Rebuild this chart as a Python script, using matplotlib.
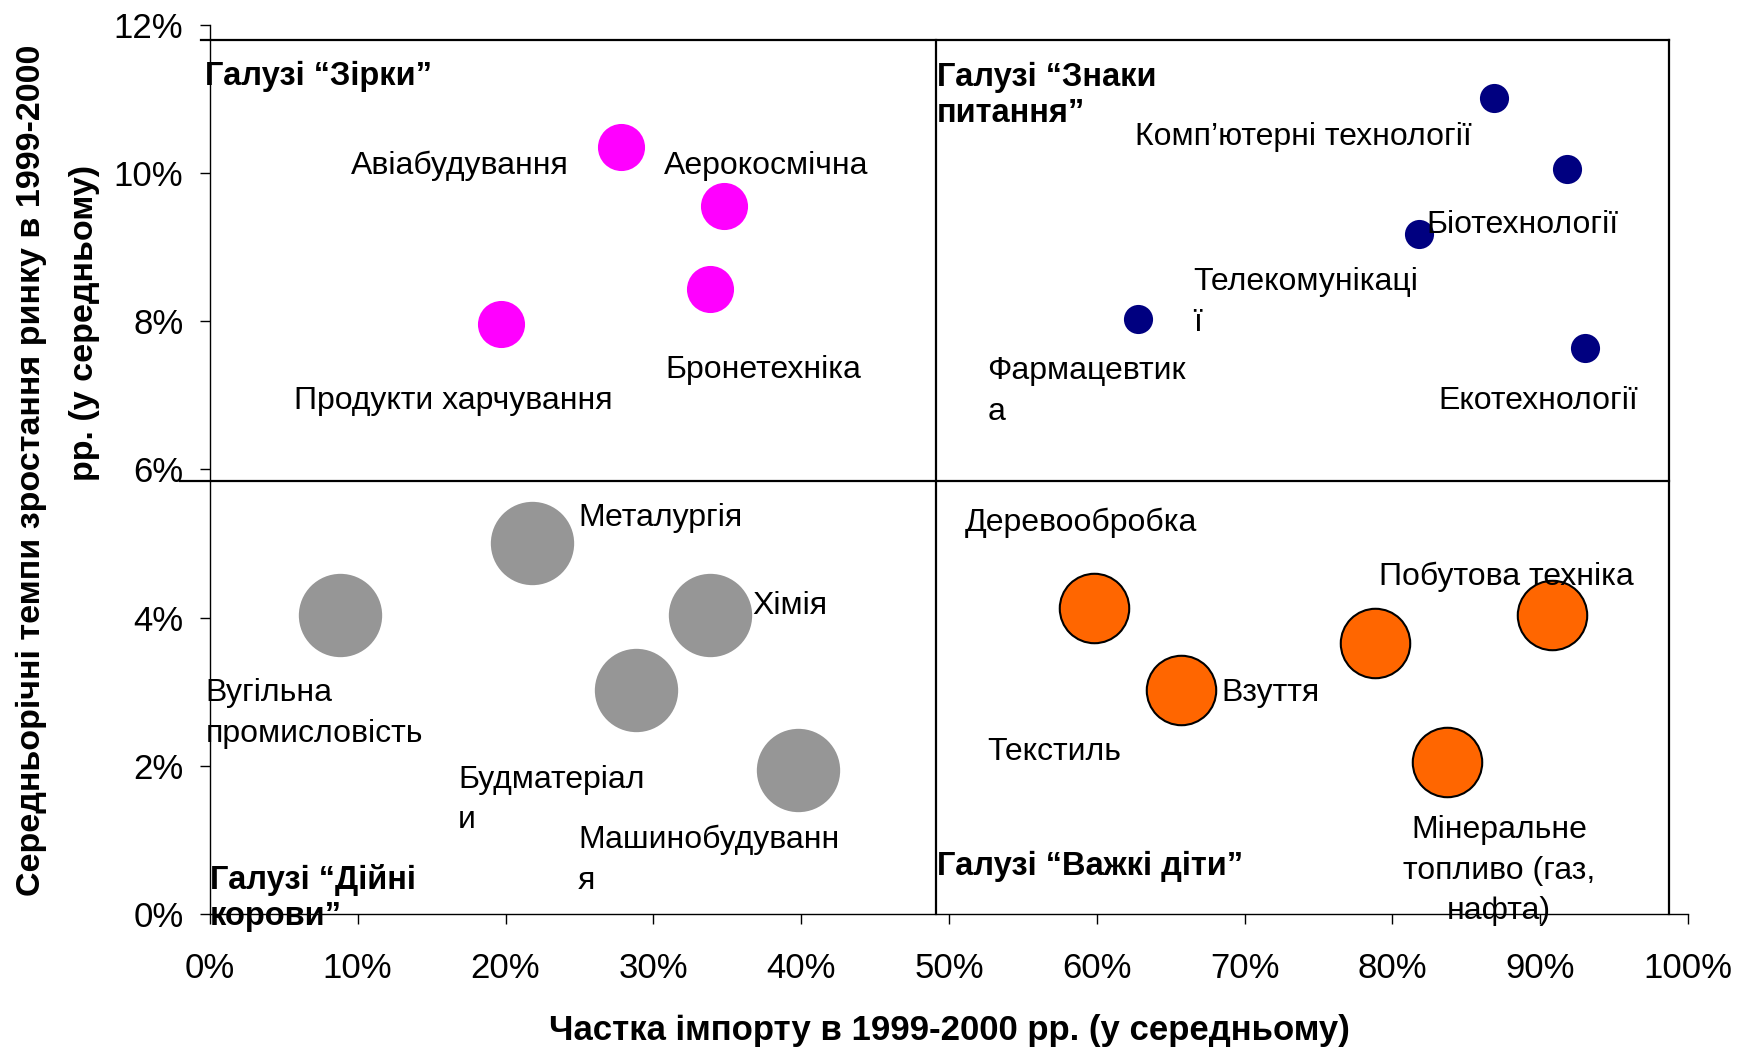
import matplotlib
matplotlib.use('Agg')
import matplotlib.pyplot as plt
from matplotlib import font_manager

# Quadrant groups: import share (%) vs growth rate (%)
stars_names = ['Авіабудування', 'Аерокосмічна', 'Бронетехніка', 'Продукти харчування']
stars_x = [27.8, 34.8, 33.8, 19.7]
stars_y = [10.35, 9.55, 8.43, 7.96]

question_names = ['Комп’ютерні технології', 'Біотехнології', 'Телекомунікаці\nї',
                  'Фармацевтик\nа', 'Екотехнології']
question_x = [86.9, 91.8, 81.8, 62.8, 93.0]
question_y = [11.01, 10.05, 9.17, 8.03, 7.64]

cows_names = ['Металургія', 'Вугільна\nпромисловість', 'Хімія', 'Будматеріал\nи',
              'Машинобудуванн\nя']
cows_x = [21.8, 8.8, 33.8, 28.8, 39.8]
cows_y = [5.01, 4.04, 4.04, 3.03, 1.95]

dogs_names = ['Деревообробка', 'Текстиль', 'Взуття', 'Побутова техніка',
              'Мінеральне\nтопливо (газ,\nнафта)']
dogs_x = [59.8, 65.7, 78.8, 90.8, 83.7]
dogs_y = [4.13, 3.03, 3.66, 4.04, 2.06]

quadrant_titles = ['Галузі “Зірки”', 'Галузі “Знаки\nпитання”',
                   'Галузі “Дійні\nкорови”', 'Галузі “Важкі діти”']

x_ticks = [0, 10, 20, 30, 40, 50, 60, 70, 80, 90, 100]
y_ticks = [0, 2, 4, 6, 8, 10, 12]

# where each label text sits (layout only)
label_pos = {
    'Авіабудування': (9.56, 10.09, 'left'),
    'Аерокосмічна': (30.73, 10.09, 'left'),
    'Бронетехніка': (30.8, 7.34, 'left'),
    'Продукти харчування': (5.69, 6.93, 'left'),
    'Комп’ютерні технології': (62.6, 10.48, 'left'),
    'Біотехнології': (82.3, 9.30, 'left'),
    'Телекомунікаці\nї': (66.5, 8.25, 'left'),
    'Фармацевтик\nа': (52.6, 7.05, 'left'),
    'Екотехнології': (83.1, 6.93, 'left'),
    'Металургія': (24.9, 5.34, 'left'),
    'Вугільна\nпромисловість': (-0.3, 2.71, 'left'),
    'Хімія': (36.7, 4.16, 'left'),
    'Будматеріал\nи': (16.8, 1.54, 'left'),
    'Машинобудуванн\nя': (24.9, 0.73, 'left'),
    'Деревообробка': (51.1, 5.28, 'left'),
    'Текстиль': (52.6, 2.19, 'left'),
    'Взуття': (68.4, 2.98, 'left'),
    'Побутова техніка': (79.1, 4.55, 'left'),
    'Мінеральне\nтопливо (газ,\nнафта)': (87.2, 0.59, 'center'),
}
title_pos = [(-0.3, 11.30), (49.2, 11.05), (0.0, 0.22), (49.2, 0.64)]

names = {f.name for f in font_manager.fontManager.ttflist}
narrow = 'Liberation Sans Narrow' if 'Liberation Sans Narrow' in names else 'Liberation Sans'
plt.rcParams['font.family'] = ['Liberation Sans', 'DejaVu Sans']

fig = plt.figure(figsize=(17.59, 10.53), dpi=100)
ax = fig.add_axes([0.1193, 0.1317, 0.8404, 0.8449])

ax.scatter(stars_x, stars_y, s=1150, color='#FF00FF', linewidths=0, zorder=3)
ax.scatter(question_x, question_y, s=440, color='#000080', linewidths=0, zorder=3)
ax.scatter(cows_x, cows_y, s=3600, color='#969696', linewidths=0, zorder=3)
ax.scatter(dogs_x, dogs_y, s=2500, color='#FF6600', edgecolors='black', linewidths=1.5, zorder=3)

# quadrant frame
box = dict(color='black', lw=1.6, clip_on=False, zorder=2)
ax.plot([-0.6, 98.7], [11.79, 11.79], **box)
ax.plot([-2.0, 98.7], [5.85, 5.85], **box)
ax.plot([49.1, 49.1], [0, 11.79], **box)
ax.plot([98.7, 98.7], [0, 11.79], **box)

narrow_labels = set(question_names) | set(dogs_names)
for name in stars_names + question_names + cows_names + dogs_names:
    x, y, ha = label_pos[name]
    fam = [narrow, 'DejaVu Sans'] if name in narrow_labels else ['Liberation Sans', 'DejaVu Sans']
    ax.text(x, y, name, ha=ha, va='center', fontsize=23, family=fam,
            linespacing=1.45, multialignment=ha, zorder=4, clip_on=False)

for i, t in enumerate(quadrant_titles):
    x, y = title_pos[i]
    fam = [narrow, 'DejaVu Sans'] if i in (1, 3) else ['Liberation Sans', 'DejaVu Sans']
    ax.text(x, y, t, ha='left', va='center', fontsize=23.5, fontweight='bold', family=fam,
            linespacing=1.2, zorder=4, clip_on=False)

ax.set_xlim(0, 100)
ax.set_ylim(0, 12)
ax.set_xticks(x_ticks)
ax.set_xticklabels([f'{v}%' for v in x_ticks])
ax.set_yticks(y_ticks)
ax.set_yticklabels([f'{v}%' for v in y_ticks])
ax.tick_params(axis='both', labelsize=25, length=7, width=1, colors='black')
ax.tick_params(axis='x', pad=20)
ax.tick_params(axis='y', pad=12)
for side in ['top', 'right']:
    ax.spines[side].set_visible(False)
for side in ['left', 'bottom']:
    ax.spines[side].set_linewidth(1)

fig.text(0.540, 0.0218, 'Частка імпорту в 1999-2000 рр. (у середньому)', ha='center', va='center',
         fontsize=25, fontweight='bold', family=[narrow, 'DejaVu Sans'])
fig.text(0.0179, 0.553, 'Середньорічні темпи зростання ринку в 1999-2000', rotation=90,
         ha='center', va='center', fontsize=24.5, fontweight='bold', family=[narrow, 'DejaVu Sans'])
fig.text(0.0478, 0.693, 'рр. (у середньому)', rotation=90,
         ha='center', va='center', fontsize=24.5, fontweight='bold', family=[narrow, 'DejaVu Sans'])

fig.savefig('out.png', dpi=100, facecolor='white')
